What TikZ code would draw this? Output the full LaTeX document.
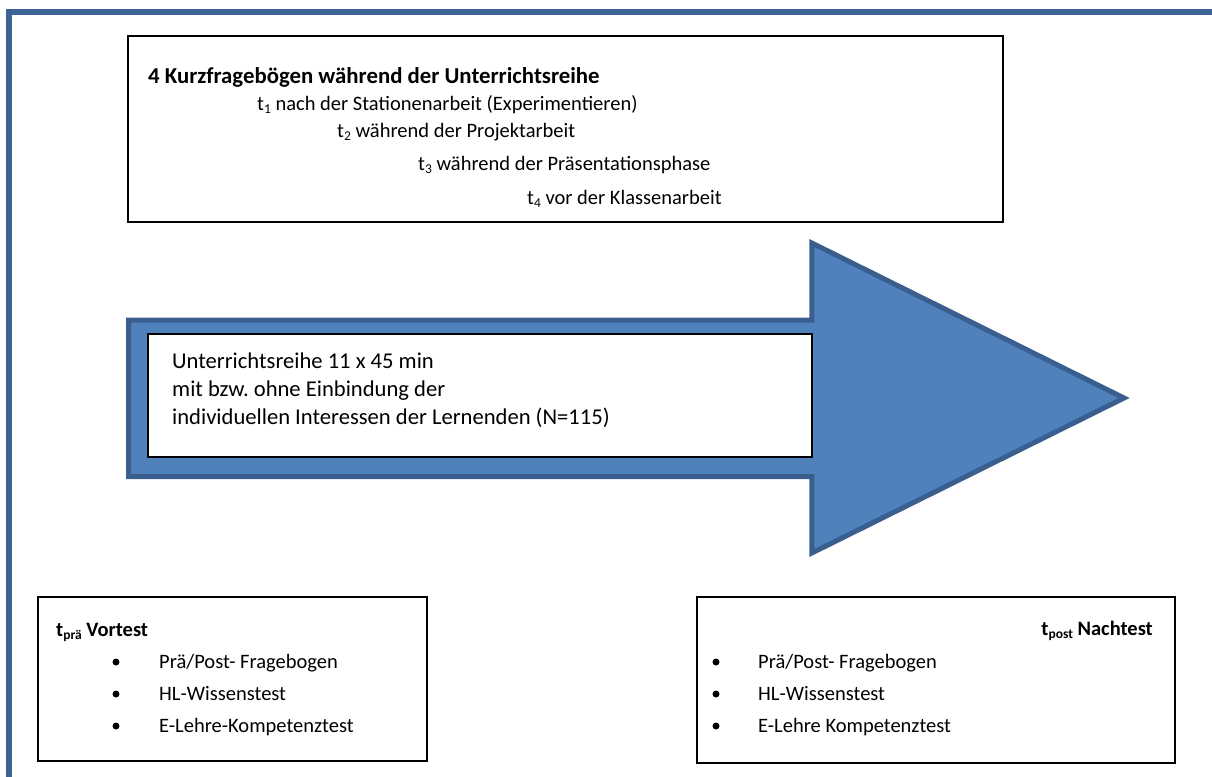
\documentclass[tikz,border=0pt]{standalone}
\usepackage{fontspec}
\setmainfont{Carlito}
\frenchspacing
\definecolor{arrowfill}{HTML}{4F81BD}
\definecolor{arrowline}{HTML}{3A5F8E}
\definecolor{frameline}{HTML}{3D6394}
\newcommand{\mysub}[1]{\raisebox{-3.5pt}{\fontsize{13.5}{13.5}\selectfont #1}}
\tikzset{
  txt/.style={anchor=base west, inner sep=0, font=\fontsize{20.5}{23}\selectfont},
  txthead/.style={anchor=base west, inner sep=0, font=\fontsize{22.8}{26}\selectfont\bfseries},
  txtbig/.style={anchor=base west, inner sep=0, font=\fontsize{22.6}{26}\selectfont},
  txtr/.style={anchor=base east, inner sep=0, font=\fontsize{20.5}{23}\selectfont},
  box/.style={draw=black, line width=1.3pt, fill=white, inner sep=0},
  dot/.style={circle, fill=black, inner sep=0, minimum size=7pt},
}
\begin{document}
\begin{tikzpicture}[x=1pt, y=-1pt]
\useasboundingbox (0,0) rectangle (1212,776);
\fill[white] (0,0) rectangle (1212,776);
% outer frame (only top and left visible)
\draw[frameline, line width=6pt, line join=miter] (9,790) -- (9,12.3) -- (1225,12.3);

% top box
\node[box, minimum width=875pt, minimum height=186pt] (topbox) at (565.5,129) {};
\node[txthead] (t0) at (148,83) {4 Kurzfragebögen während der Unterrichtsreihe};
\node[txt] (t1) at (257,110) {t\mysub{1} nach der Stationenarbeit (Experimentieren)};
\node[txt] (t2) at (337,137) {t\mysub{2} während der Projektarbeit};
\node[txt] (t3) at (418,170) {t\mysub{3} während der Präsentationsphase};
\node[txt] (t4) at (527,204) {t\mysub{4} vor der Klassenarbeit};

% big arrow
\draw[fill=arrowfill, draw=arrowline, line width=5pt, line join=miter, miter limit=10]
  (128.5,320) -- (811.8,320) -- (811.8,243) -- (1124,398) -- (811.8,553) -- (811.8,476.7) -- (128.5,476.7) -- cycle;

% inner box
\node[box, minimum width=664pt, minimum height=123pt] (inbox) at (480,395.5) {};
\node[txtbig] (i1) at (172,368) {Unterrichtsreihe 11 x 45 min};
\node[txtbig] (i2) at (172,396) {mit bzw. ohne Einbindung der};
\node[txtbig] (i3) at (172,424) {individuellen Interessen der Lernenden (N=115)};

% bottom left box
\node[box, minimum width=389pt, minimum height=164pt] (lbox) at (232.5,679) {};
\node[txt] (lh) at (56,636) {\bfseries t\mysub{prä} Vortest};
\node[dot] (lb1) at (116,662) {};
\node[dot] (lb2) at (116,694) {};
\node[dot] (lb3) at (116,726) {};
\node[txt] (l1) at (159,668) {Prä/Post- Fragebogen};
\node[txt] (l2) at (159,700) {HL-Wissenstest};
\node[txt] (l3) at (159,732) {E-Lehre-Kompetenztest};

% bottom right box
\node[box, minimum width=478pt, minimum height=166pt] (rbox) at (936,680) {};
\node[txtr] (rh) at (1153,635) {\bfseries t\mysub{post} Nachtest};
\node[dot] (rb1) at (716,662) {};
\node[dot] (rb2) at (716,694) {};
\node[dot] (rb3) at (716,726) {};
\node[txt] (r1) at (758,668) {Prä/Post- Fragebogen};
\node[txt] (r2) at (758,700) {HL-Wissenstest};
\node[txt] (r3) at (758,732) {E-Lehre Kompetenztest};
\end{tikzpicture}
\end{document}
